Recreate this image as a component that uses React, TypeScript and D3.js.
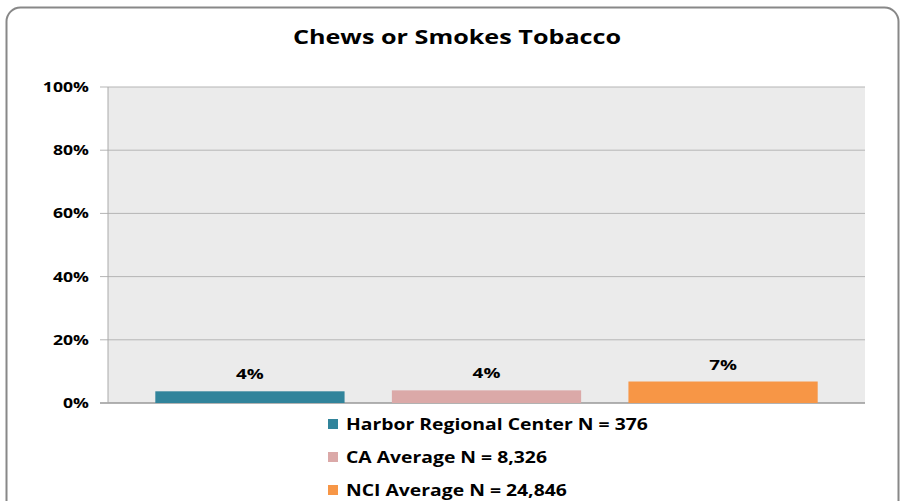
import React from "react";
import * as d3 from "d3";

const title = "Chews or Smokes Tobacco";
const series = ["Harbor Regional Center N = 376", "CA Average N = 8,326", "NCI Average N = 24,846"];
const values = [3.7, 4.0, 6.8];
const labels = ["4%", "4%", "7%"];
const colors = ["#31849B", "#DBA9A8", "#F79646"];
const yTicks = [0, 20, 40, 60, 80, 100];

const W = 900, H = 501;
const plot = { left: 108, right: 865, top: 87, bottom: 403 };
const SX = 1.26;

function T(props: { x: number; y: number; sx?: number; anchor?: string; size: number; children: React.ReactNode; dy?: string }) {
  const { x, y, sx = SX, anchor = "start", size, children, dy } = props;
  return (
    <text transform={`translate(${x},${y}) scale(${sx},1)`} textAnchor={anchor} dy={dy} fontSize={size} fontWeight="bold" fill="#000">
      {children}
    </text>
  );
}

export default function App() {
  const x = d3.scaleBand<string>().domain(series).range([plot.left, plot.right]).paddingInner(0.2).paddingOuter(0.2);
  const y = d3.scaleLinear().domain([0, 100]).range([plot.bottom, plot.top]);
  const font = "'Open Sans', sans-serif";
  return (
    <svg width={W} height={H} style={{ position: "absolute", left: 0, top: 0 }} fontFamily={font}>
      <rect x={0} y={0} width={W} height={H} fill="#fff" />
      <rect x={6.5} y={7.5} width={892} height={520} rx={14} fill="#fff" stroke="#888" strokeWidth={2} />
      <T x={457} y={44} anchor="middle" size={20}>{title}</T>
      <rect x={plot.left} y={plot.top} width={plot.right - plot.left} height={plot.bottom - plot.top} fill="#EBEBEB" />
      {yTicks.map((t) => (
        <g key={t}>
          <line x1={plot.left - 8} x2={plot.right} y1={y(t)} y2={y(t)} stroke={t === 0 ? "#999" : "#B5B5B5"} strokeWidth={t === 0 ? 1.5 : 1} />
          <T x={89} y={y(t)} dy="0.35em" anchor="end" size={14}>{t}%</T>
        </g>
      ))}
      <line x1={plot.left} x2={plot.left} y1={plot.top} y2={plot.bottom} stroke="#AAA" />
      {series.map((s, i) => (
        <g key={s}>
          <rect x={x(s)} y={y(values[i])} width={x.bandwidth()} height={y(0) - y(values[i])} fill={colors[i]} />
          <T x={(x(s) as number) + x.bandwidth() / 2} y={y(values[i]) - 12} anchor="middle" size={15}>{labels[i]}</T>
        </g>
      ))}
      {series.map((s, i) => (
        <g key={"l" + s}>
          <rect x={328} y={419 + i * 33} width={10} height={10} fill={colors[i]} />
          <T x={346} y={424 + i * 33} dy="0.35em" size={16} sx={1.21}>{s}</T>
        </g>
      ))}
    </svg>
  );
}
